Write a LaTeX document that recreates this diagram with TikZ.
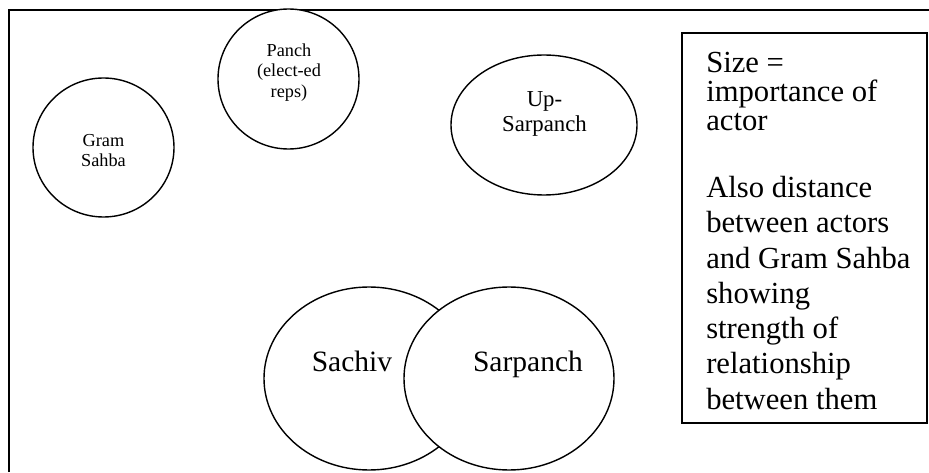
\documentclass[tikz,border=0pt]{standalone}
\usepackage{fontspec}
\setmainfont{Liberation Serif}
\usetikzlibrary{shapes.geometric}
\tikzset{
    actor/.style={
        ellipse, draw=black, fill=white, line width=1pt, inner sep=0pt
    },
    smalltext/.style={font=\fontsize{13}{14.6}\selectfont, align=center, inner sep=0pt},
    midtext/.style={font=\fontsize{16.2}{17.8}\selectfont, align=center, inner sep=0pt},
    bigtext/.style={font=\fontsize{21}{24}\selectfont, inner sep=0pt},
    legendbox/.style={rectangle, draw=black, line width=1pt, fill=white},
    legendtext/.style={align=left, inner sep=0pt},
}
\begin{document}
\begin{tikzpicture}
    \useasboundingbox (0, 0) rectangle (23.225, 11.8);
    \draw[line width=1pt] (0.225, 0) |- (23.3, 11.55);

    \node[actor, minimum width=3.525cm, minimum height=3.475cm] (gram) at (2.5875, 8.1125) {};
    \node[actor, minimum width=3.525cm, minimum height=3.5cm] (panch) at (7.2125, 9.825) {};
    \node[actor, minimum width=4.65cm, minimum height=3.5cm] (upsarpanch) at (13.6, 8.675) {};
    \node[actor, minimum width=5.25cm, minimum height=4.575cm] (sachiv) at (9.225, 2.3375) {};
    \node[actor, minimum width=5.25cm, minimum height=4.575cm] (sarpanch) at (12.725, 2.3375) {};

    \node[smalltext] (gramtxt) at (2.5875, 8.04) {Gram\\Sahba};
    \node[smalltext] (panchtxt) at (7.225, 9.99) {Panch\\(elect-ed\\reps)};
    \node[midtext] (uptxt) at (13.6125, 8.94) {Up-\\Sarpanch};
    \node[bigtext, anchor=base] (sachivtxt) at (8.8, 2.5) {Sachiv};
    \node[bigtext, anchor=base] (sarpanchtxt) at (13.2, 2.5) {Sarpanch};

    \node[legendbox, minimum width=6.125cm, minimum height=9.75cm] (legend) at (20.1125, 6.1) {};
    \node[legendtext, anchor=north west, font=\fontsize{21.8}{20.6}\selectfont] (sizenote) at (17.65, 10.5075)
        {Size =\\importance of\\actor};
    \node[legendtext, anchor=north west, font=\fontsize{21.8}{25.1}\selectfont] (distnote) at (17.65, 7.4)
        {Also distance\\between actors\\and Gram Sahba\\showing\\strength of\\relationship\\between them};
\end{tikzpicture}
\end{document}
